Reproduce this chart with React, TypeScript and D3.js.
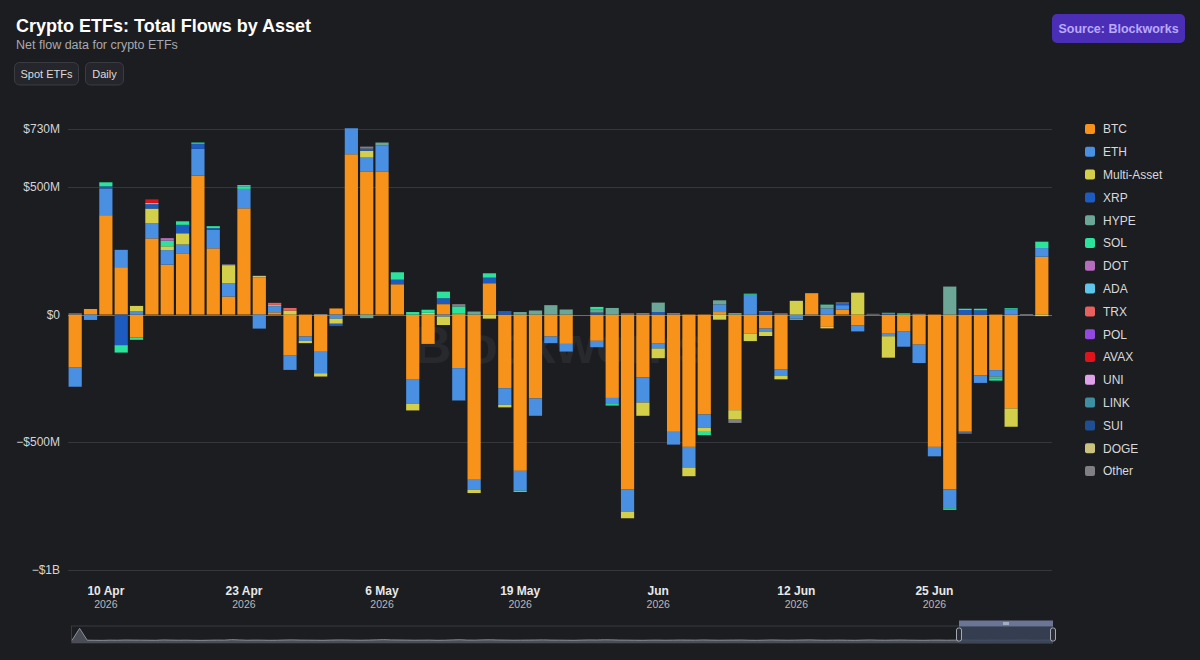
import React from 'react';
import * as d3 from 'd3';

// trading days shown in the window
const dates = [
  '2026-04-08', '2026-04-09', '2026-04-10', '2026-04-13', '2026-04-14', '2026-04-15', '2026-04-16', '2026-04-17',
  '2026-04-20', '2026-04-21', '2026-04-22', '2026-04-23', '2026-04-24', '2026-04-27', '2026-04-28', '2026-04-29',
  '2026-04-30', '2026-05-01', '2026-05-04', '2026-05-05', '2026-05-06', '2026-05-07', '2026-05-08', '2026-05-11',
  '2026-05-12', '2026-05-13', '2026-05-14', '2026-05-15', '2026-05-18', '2026-05-19', '2026-05-20', '2026-05-21',
  '2026-05-22', '2026-05-25', '2026-05-26', '2026-05-27', '2026-05-28', '2026-05-29', '2026-06-01', '2026-06-02',
  '2026-06-03', '2026-06-04', '2026-06-05', '2026-06-08', '2026-06-09', '2026-06-10', '2026-06-11', '2026-06-12',
  '2026-06-15', '2026-06-16', '2026-06-17', '2026-06-18', '2026-06-19', '2026-06-22', '2026-06-23', '2026-06-24',
  '2026-06-25', '2026-06-26', '2026-06-29', '2026-06-30', '2026-07-01', '2026-07-02', '2026-07-03', '2026-07-06',
];

const tickDates = ['2026-04-10', '2026-04-23', '2026-05-06', '2026-05-19', '2026-06-01', '2026-06-12', '2026-06-25'];
const yTicks = [-1000, -500, 0, 500, 730];

const seriesNames = ['BTC', 'ETH', 'Multi-Asset', 'XRP', 'HYPE', 'SOL', 'DOT', 'ADA', 'TRX', 'POL', 'AVAX', 'UNI', 'LINK', 'SUI', 'DOGE', 'Other'];
const seriesColors = ['#f7931a', '#4a90e2', '#d4cf4a', '#1e5bbf', '#6ba696', '#2be39b', '#b46cbc', '#5ec6e8', '#e8605f', '#9348e0', '#e0121b', '#dfa2e8', '#3f8fa3', '#1d4f92', '#cbc27e', '#7f7f84'];

// daily net flows, $M
const btcFlows = [
  -208, 22, 390, 186, -90, 299, 196, 238, 545, 260, 71, 417, 146, 9, -161, -86,
  -146, 24, 629, 560, 560, 119, -253, -115, 41, -210, -648, 123, -289, -613, -329, -86,
  -115, 0, -103, -327, -685, -246, -112, -460, -519, -392, 10, -375, -75, -55, -214, 0,
  84, -48, 20, -42, 0, -75, -65, -118, -519, -686, -457, -238, -218, -368, 0, 227,
];
const ethFlows = [
  -75, -21, 105, 68, 14, 60, 57, 37, 105, 73, 52, 76, -55, 23, -56, -17,
  -84, -16, 102, 56, 103, 0, -97, 0, -8, -127, -39, 0, -65, -78, -68, -26,
  -30, 0, -25, -24, -88, -99, -21, -50, -81, -52, 30, 0, 78, -13, -27, -16,
  0, 24, 17, -24, 0, -10, -61, -72, -37, -74, -6, -30, -24, 20, 0, 34,
];
const multiFlows = [
  0, 0, 0, 0, 20, 57, 15, 44, 0, 0, 71, 0, 0, 0, 16, -9,
  -13, -20, 0, 27, 0, 0, -26, 7, -33, 4, -13, -16, -10, 0, 0, 0,
  0, 0, 0, 0, -26, -52, -38, 0, -34, -16, -20, -37, -29, -16, -13, 54,
  0, -6, 0, 86, 0, -84, 0, 0, 0, 0, 0, 0, 0, -72, 0, -6,
];
const xrpFlows = [
  0, 0, 8, -120, 0, 17, 0, 33, 20, 6, 0, 0, 0, 0, 0, 0,
  0, -9, 0, 8, 0, 18, 0, 0, 23, 0, 0, 22, 14, 0, 0, 0,
  0, 0, 8, 0, 0, 0, 10, 0, 0, 0, 0, 0, 0, 10, 0, 0,
  0, 0, 6, 0, 0, 5, 0, 0, 0, 0, 18, 17, 0, 0, 0, 0,
];
const hypeFlows = [
  0, 0, 0, 0, 0, 0, 0, 0, 0, 0, 0, 0, 0, 0, 0, 0,
  0, 0, 0, -14, 12, 0, 0, 0, 0, 0, 12, 0, 0, 10, 16, 37,
  20, 0, 13, 26, 0, 0, 37, 0, 0, 0, 16, 6, 0, 3, 0, -5,
  0, 10, 0, 0, 0, 0, 0, 0, 0, 110, 0, 0, -8, 0, 0, 0,
];
const solFlows = [
  0, 0, 16, -29, -9, 0, 22, 14, 5, 8, 0, 10, 0, 0, 0, 0,
  0, 0, 0, 0, 0, 29, 10, 12, 26, 28, 0, 17, 0, -5, 0, 0,
  0, 0, 9, -6, 0, 0, 0, 0, 0, -13, 0, 0, 4, 0, 0, 0,
  0, 5, 0, 0, 0, 2, 5, 0, 0, -6, 5, 6, -9, 5, 0, 25,
];
const dotFlows = [
  0, 0, 0, 0, 0, 0, 10, 0, 0, 0, 0, 0, 0, 0, 0, 0,
  0, 0, 0, 0, 0, 0, 0, 0, 0, 0, 0, 0, 0, 0, 0, 0,
  0, 0, 0, 0, 0, 0, 0, 0, 0, 0, 0, 0, 0, 0, 0, 0,
  0, 0, 0, 0, 0, 0, 0, 0, 0, 0, 0, 0, 0, 0, 0, 0,
];
const adaFlows = [
  0, 0, 0, 0, 0, 5, 0, 0, 0, 0, 0, 5, 0, 6, 0, 0,
  0, 0, 0, 0, 0, 0, 0, 0, 0, 0, 0, 0, 0, 0, 0, 0,
  0, 0, 0, 0, 0, 0, 0, 0, 0, 0, 0, 0, 0, 0, 0, 0,
  0, 0, 0, 0, 0, 0, 0, 0, 0, 0, 0, 0, 0, 0, 0, 0,
];
const trxFlows = [
  0, 0, 0, 0, 0, 0, 0, 0, 0, 0, 0, 0, 0, 8, 10, 0,
  0, 0, 0, 0, 0, 0, 0, 0, 0, 0, 0, 0, 0, 0, 0, 0,
  0, 0, 0, 0, 0, 0, 0, 0, 0, 0, 0, 0, 0, 0, 0, 0,
  0, 0, 0, 0, 0, 0, 0, 0, 0, 0, 0, 0, 0, 0, 0, 0,
];
const avaxFlows = [
  0, 0, 0, 0, 0, 14, 0, 0, 0, 0, 0, 0, 0, 0, 0, 0,
  0, 0, 0, 0, 0, 0, 0, 0, 0, 0, 0, 0, 0, 0, 0, 0,
  0, 0, 0, 0, 0, 0, 0, 0, 0, 0, 0, 0, 0, 0, 0, 0,
  0, 0, 0, 0, 0, 0, 0, 0, 0, 0, 0, 0, 0, 0, 0, 0,
];
const dogeFlows = [
  0, 0, 0, 0, 0, 0, 0, 0, 0, 0, 0, 0, 6, 0, 0, 0,
  0, 0, 0, 0, 0, 0, 0, 0, 0, 0, 0, 0, 0, 0, 0, 0,
  0, 0, 0, 0, 0, 0, 0, 0, 0, 0, 0, 0, 0, 0, 0, 0,
  0, 0, 0, 0, 0, 0, 0, 0, 0, 0, 0, 0, 0, 0, 0, 0,
];
const otherFlows = [
  5, 0, 0, 0, 0, 0, 0, 0, 0, 0, 3, 0, 0, 0, 0, 0,
  2, 0, 0, 8, 0, 0, 0, 0, 0, 9, 0, 0, 0, 0, 0, 0,
  0, 0, 0, 0, 5, 6, 0, 6, 0, 0, 0, -13, 0, 0, 5, 0,
  -5, 0, 5, 0, 3, 0, 0, 3, 0, 0, -4, 0, 0, 0, 2, 0,
];

// longer history for the navigator strip (absolute weekly totals, $M)
const historyFlows = [
  10, 900, 20, 15, 10, 25, 20, 35, 30, 25, 20, 15, 40, 30, 20, 25, 15, 10, 20, 30,
  25, 60, 40, 20, 30, 25, 15, 20, 35, 45, 30, 25, 20, 15, 30, 40, 35, 25, 20, 30,
  45, 60, 40, 35, 30, 20, 25, 30, 15, 20, 40, 55, 30, 25, 45, 50, 35, 30, 20, 25,
  30, 35, 45, 30, 25, 20, 15, 30, 40, 35, 50, 45, 30, 25, 20, 15, 25, 30, 20, 25,
  35, 30, 25, 40, 30, 20, 25, 30, 35, 20, 15, 25, 40, 30, 20, 25, 35, 45, 30, 20,
  25, 30, 20, 15, 30, 40, 25, 20, 30, 35, 25, 20, 15, 25, 30, 20, 25, 35, 30, 25,
  20, 30, 25, 20, 30, 35, 25, 20, 30, 25,
];

const seriesFlows: [string, number[]][] = [
  ['BTC', btcFlows], ['ETH', ethFlows], ['Multi-Asset', multiFlows], ['XRP', xrpFlows],
  ['HYPE', hypeFlows], ['SOL', solFlows], ['DOT', dotFlows], ['ADA', adaFlows],
  ['TRX', trxFlows], ['AVAX', avaxFlows], ['DOGE', dogeFlows], ['Other', otherFlows],
];

const FONT = '"Liberation Sans", Arial, Helvetica, sans-serif';
const BG = '#1c1d21';

const plotLeft = 68;
const plotRight = 1052;

const parseDate = d3.timeParse('%Y-%m-%d');
const fmtDay = d3.timeFormat('%-d %b');
const fmtMonth = d3.timeFormat('%b');
const fmtYear = d3.timeFormat('%Y');

function fmtMoney(v: number) {
  if (v === 0) return '$0';
  const sign = v < 0 ? '\u2212' : '';
  const a = Math.abs(v);
  return a >= 1000 ? `${sign}$${a / 1000}B` : `${sign}$${a}M`;
}

export default function App() {
  const rows = dates.map((d, i) => {
    const row: Record<string, any> = { date: d };
    seriesFlows.forEach(([k, arr]) => { row[k] = arr[i]; });
    return row;
  });
  const keys = seriesFlows.map(s => s[0]);
  const stacked = d3.stack<any>().keys(keys).offset(d3.stackOffsetDiverging)(rows);

  const x = d3.scaleBand<string>().domain(dates).range([67.5, 1049.5]).paddingInner(0.14).paddingOuter(0.07);
  const y = d3.scaleLinear().domain([-1000, 730]).range([569.5, 128.5]);
  const color = d3.scaleOrdinal<string, string>().domain(seriesNames).range(seriesColors);

  // navigator strip
  const navX = d3.scaleLinear().domain([0, historyFlows.length - 1]).range([72, 1053]);
  const navY = d3.scaleLinear().domain([0, 1000]).range([640.5, 627]);
  const navArea = d3.area<number>().x((_, i) => navX(i)).y0(643).y1(d => navY(d));
  const navLine = d3.line<number>().x((_, i) => navX(i)).y(d => navY(d));

  return (
    <div style={{ position: 'fixed', left: 0, top: 0, width: 1200, height: 660, background: BG }}>
      <svg width={1200} height={660} style={{ display: 'block', fontFamily: FONT }}>
        <rect width={1200} height={660} fill={BG} />

        {/* header */}
        <text x={16} y={32} fontSize={18} fontWeight={700} fill="#ffffff">Crypto ETFs: Total Flows by Asset</text>
        <text x={16} y={48.5} fontSize={12.5} fill="#a9a9ad">Net flow data for crypto ETFs</text>
        {[['Spot ETFs', 14, 64], ['Daily', 85, 38]].map(([label, bx, bw]) => (
          <g key={label as string}>
            <rect x={(bx as number) + 0.5} y={62.5} width={bw as number} height={22.5} rx={5} fill="#25262b" stroke="#3b3c42" />
            <text x={(bx as number) + (bw as number) / 2 + 0.5} y={77.5} fontSize={11} fill="#dcdcdc" textAnchor="middle">{label}</text>
          </g>
        ))}
        <rect x={1052} y={14} width={133} height={29} rx={5} fill="#4a2fb6" />
        <text x={1118.5} y={32.5} fontSize={12.5} fontWeight={700} fill="#bba9ff" textAnchor="middle">Source: Blockworks</text>

        {/* grid */}
        {yTicks.map(t => (
          <g key={t}>
            <line x1={plotLeft} x2={plotRight} y1={Math.round(y(t)) + 0.5} y2={Math.round(y(t)) + 0.5}
              stroke={t === 0 ? '#6c6d73' : '#36373d'} strokeWidth={1} />
            <text x={60} y={Math.round(y(t)) + 4} fontSize={12} fill="#d4d4d6" textAnchor="end">{fmtMoney(t)}</text>
          </g>
        ))}

        <text x={(plotLeft + plotRight) / 2} y={349} fontSize={52} fontWeight={700} fill="#ffffff" fillOpacity={0.055}
          textAnchor="middle" dominantBaseline="middle">Blockworks</text>

        {/* stacked bars */}
        {stacked.map(layer => (
          <g key={layer.key} fill={color(layer.key)}>
            {layer.map((d, i) => {
              if (d[1] === d[0]) return null;
              const y0 = y(Math.max(d[0], d[1]));
              const y1 = y(Math.min(d[0], d[1]));
              return <rect key={i} x={x(dates[i])} y={y0} width={x.bandwidth()} height={Math.max(0.8, y1 - y0)} />;
            })}
          </g>
        ))}

        {/* x axis */}
        {tickDates.map(td => {
          const dt = parseDate(td)!;
          const cx = (x(td) as number) + x.bandwidth() / 2;
          return (
            <g key={td}>
              <text x={cx} y={595} fontSize={12} fontWeight={700} fill="#e8e8e8" textAnchor="middle">
                {dt.getDate() === 1 ? fmtMonth(dt) : fmtDay(dt)}
              </text>
              <text x={cx} y={608} fontSize={10.5} fill="#b9b9bc" textAnchor="middle">{fmtYear(dt)}</text>
            </g>
          );
        })}

        {/* navigator */}
        <rect x={71.5} y={626} width={981} height={17} fill="none" stroke="#393b41" />
        <path d={navArea(historyFlows) || ''} fill="#4a4d55" />
        <path d={navLine(historyFlows) || ''} fill="none" stroke="#8b8f98" strokeWidth={1} />
        <rect x={959} y={626.5} width={94} height={17} fill="#3a4458" fillOpacity={0.85} />
        <rect x={959} y={620.5} width={94} height={6} fill="#6b7696" />
        {[-2, 0, 2].map(o => (
          <line key={o} x1={1006 + o} x2={1006 + o} y1={622} y2={625} stroke="#ffffff" strokeWidth={0.8} />
        ))}
        {[959, 1053].map(hx => (
          <rect key={hx} x={hx - 2.5} y={628} width={5} height={13} rx={2} fill="#2a2d35" stroke="#b4b8c2" strokeWidth={0.9} />
        ))}

        {/* legend */}
        {seriesNames.map((name, i) => {
          const ly = 129 + i * 22.8;
          return (
            <g key={name}>
              <rect x={1085} y={ly - 5} width={10} height={10} rx={2} fill={seriesColors[i]} />
              <text x={1103} y={ly + 4.3} fontSize={12} fill="#d9d9db">{name}</text>
            </g>
          );
        })}
      </svg>
    </div>
  );
}
